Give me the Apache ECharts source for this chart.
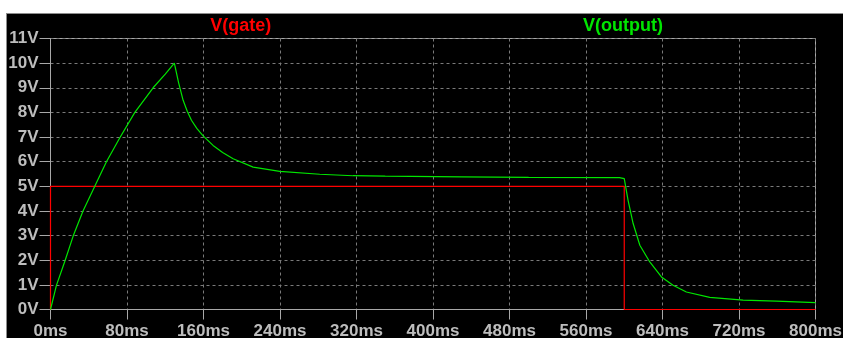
<!DOCTYPE html>
<html>
<head>
<meta charset="utf-8">
<script src="https://cdn.jsdelivr.net/npm/echarts@6/dist/echarts.min.js"></script>
<style>
  html, body { margin: 0; padding: 0; background: #ffffff; }
  #frame {
    position: absolute; left: 6px; top: 13px; width: 837px; height: 325px;
    box-sizing: border-box; background: #000000;
    border-top: 1px solid #8c8c8c; border-left: 1px solid #8c8c8c;
  }
  #chart { position: absolute; left: 0; top: 0; width: 843px; height: 338px; }
</style>
</head>
<body>
<div id="frame"></div>
<div id="chart"></div>
<script>
// Transient simulation traces (time in ms, voltage in V)
const gateTimes = [0, 0, 600, 600, 800];
const gateVolts = [0, 5, 5, 0, 0];

const outputTimes = [0, 6.2, 15, 23.7, 34, 46.3, 58.5, 72.5, 88.2, 107.3, 120, 129.5,
  134, 138.7, 143, 147.4, 153, 159.6, 170, 180, 191, 211.9, 239.8, 281.6, 316.4, 350, 430, 500, 595,
  600, 604, 609.3, 616.3, 626.7, 638.9, 651, 665, 689.4, 724.3, 759, 800];
const outputVolts = [0, 0.98, 1.96, 2.98, 4.0, 5.0, 6.0, 6.97, 8.0, 9.0, 9.55, 10.0,
  9.2, 8.49, 8.05, 7.68, 7.35, 7.05, 6.66, 6.37, 6.12, 5.78, 5.61, 5.49, 5.43, 5.41, 5.38, 5.36, 5.35,
  5.31, 4.43, 3.49, 2.61, 1.93, 1.32, 0.985, 0.71, 0.49, 0.38, 0.34, 0.28];

const traceNames = ['V(gate)', 'V(output)'];
const traceColors = ['#ff0000', '#00e600'];

const zip = (xs, ys) => xs.map((x, i) => [x, ys[i]]);

const labelFont = { color: '#bdbdbd', fontFamily: 'Liberation Sans, Arial, sans-serif', fontWeight: 'bold', fontSize: 17 };
const frameColor = '#a8a8a8';
const gridLineStyle = { color: '#7a7a7a', type: [3, 3], width: 1 };
const titleFont = 'bold 18px "Liberation Sans", Arial, sans-serif';

const chart = echarts.init(document.getElementById('chart'), null, { renderer: 'canvas' });
chart.setOption({
  backgroundColor: 'transparent',
  animation: false,
  grid: {
    left: 50.5, right: 27.5, top: 38.5, bottom: 28.5,
    containLabel: false, outerBoundsMode: 'none',
    show: true, borderColor: frameColor, borderWidth: 1, backgroundColor: 'transparent'
  },
  graphic: [
    { type: 'text', x: 240.7, y: 26, style: { text: traceNames[0], fill: traceColors[0], font: titleFont, textAlign: 'center', textVerticalAlign: 'middle' } },
    { type: 'text', x: 623, y: 26, style: { text: traceNames[1], fill: traceColors[1], font: titleFont, textAlign: 'center', textVerticalAlign: 'middle' } }
  ],
  xAxis: {
    type: 'value', min: 0, max: 800, interval: 80,
    axisLine: { show: true, lineStyle: { color: frameColor, width: 1 } },
    axisTick: { show: true, length: 10, lineStyle: { color: frameColor } },
    axisLabel: Object.assign({ formatter: '{value}ms', margin: 13, showMinLabel: true, showMaxLabel: true, hideOverlap: false }, labelFont),
    splitLine: { show: true, lineStyle: gridLineStyle }
  },
  yAxis: {
    type: 'value', min: 0, max: 11, interval: 1,
    axisLine: { show: true, lineStyle: { color: frameColor, width: 1 } },
    axisTick: { show: true, length: 11, lineStyle: { color: frameColor } },
    axisLabel: Object.assign({ formatter: '{value}V', margin: 12 }, labelFont),
    splitLine: { show: true, lineStyle: gridLineStyle }
  },
  series: [
    { name: traceNames[0], type: 'line', data: zip(gateTimes, gateVolts), showSymbol: false, symbol: 'none',
      lineStyle: { color: traceColors[0], width: 1.2 }, z: 3 },
    { name: traceNames[1], type: 'line', data: zip(outputTimes, outputVolts), showSymbol: false, symbol: 'none',
      lineStyle: { color: traceColors[1], width: 1.2 }, z: 4 }
  ]
});
</script>
</body>
</html>
